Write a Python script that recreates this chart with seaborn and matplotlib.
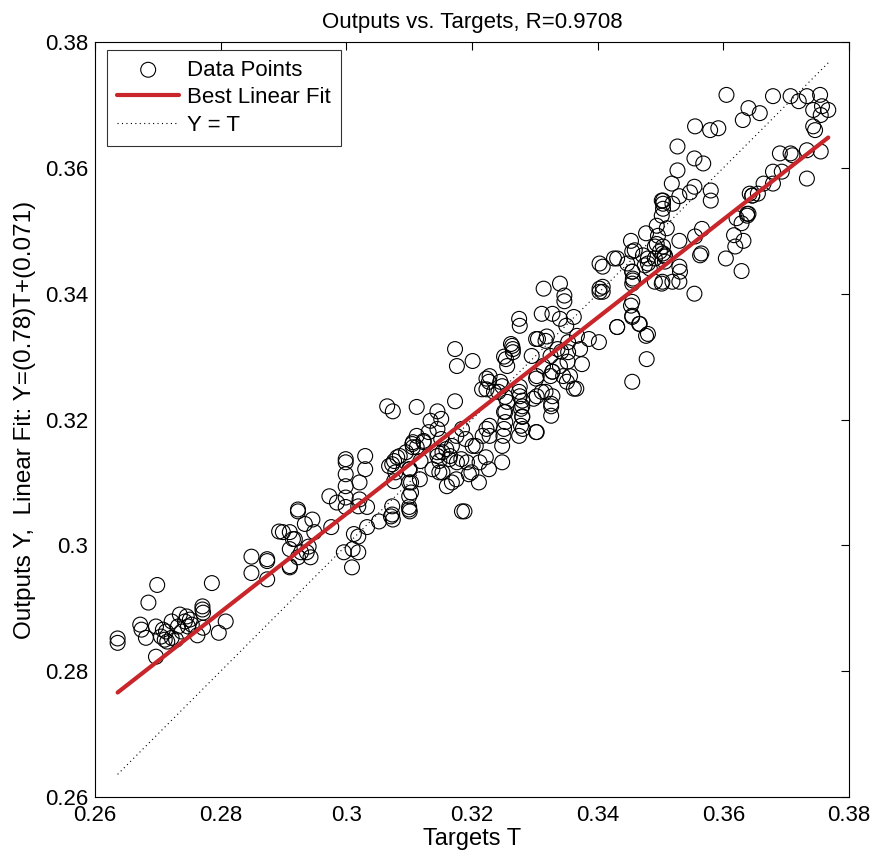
import numpy as np
import pandas as pd
import seaborn as sns
import matplotlib
matplotlib.use("Agg")
import matplotlib.pyplot as plt

# targets T and outputs Y
targets = [
    0.2636, 0.2636, 0.2699, 0.2685, 0.2786, 0.2672, 0.2674, 0.2681, 0.2697, 0.2697,
    0.2705, 0.2713, 0.2715, 0.2722, 0.2722, 0.2735, 0.2732, 0.2738, 0.2743, 0.2746,
    0.2748, 0.2751, 0.2754, 0.2763, 0.2771, 0.2772, 0.2771, 0.2772, 0.2797, 0.2808,
    0.2729, 0.2849, 0.2874, 0.2910, 0.2874, 0.2708, 0.2711,
    0.2849, 0.2874, 0.2899, 0.2910, 0.2915, 0.2910, 0.2910, 0.2923, 0.2923, 0.2934, 0.2937,
    0.2893, 0.2918, 0.2923, 0.2928, 0.2940, 0.2946, 0.2949, 0.2943, 0.2973, 0.2976,
    0.2985, 0.2999, 0.2999, 0.2999, 0.2999, 0.2999, 0.2999, 0.2996, 0.3009, 0.3012,
    0.3019, 0.3019, 0.3019, 0.3021, 0.3030, 0.3033, 0.3033, 0.3030, 0.3052, 0.3071,
    0.3073, 0.3081, 0.3100, 0.3100, 0.3100, 0.3100, 0.3112, 0.3117, 0.3123, 0.3137,
    0.3148, 0.3153, 0.3159, 0.3175, 0.3188, 0.3183, 0.3199, 0.3201, 0.3021, 0.3078,
    0.3101, 0.3106, 0.3145, 0.3165, 0.3010,
    0.3065, 0.3074, 0.3173, 0.3176, 0.3201, 0.3112, 0.3145, 0.3151, 0.3134, 0.3173,
    0.3112, 0.3105, 0.3095, 0.3076, 0.3068, 0.3076, 0.3103, 0.3103, 0.3100, 0.3073,
    0.3118, 0.3123, 0.3131, 0.3145, 0.3151, 0.3153, 0.3164, 0.3168, 0.3175, 0.3184,
    0.3190, 0.3176, 0.3148, 0.3168, 0.3195, 0.3211, 0.3184, 0.3206, 0.3222, 0.3227,
    0.3248, 0.3248, 0.3251, 0.3251, 0.3216, 0.3227, 0.3235, 0.3248, 0.3254, 0.3262,
    0.3275, 0.3278, 0.3278, 0.3275, 0.3302, 0.3298, 0.3302, 0.3317, 0.3326, 0.3326,
    0.3328, 0.3342, 0.3352, 0.3362, 0.3302, 0.3106, 0.3085, 0.3101, 0.3073, 0.3074,
    0.3145, 0.3160, 0.3192, 0.3217, 0.3212, 0.3256, 0.3223, 0.3228, 0.3223, 0.3242,
    0.3253, 0.3265, 0.3256, 0.3280, 0.3280, 0.3313, 0.3356, 0.3340, 0.3319,
    0.3340, 0.3314, 0.3347, 0.3347, 0.3403, 0.3403, 0.3431, 0.3447, 0.3455, 0.3456,
    0.3472, 0.3491, 0.3503, 0.3455, 0.3455, 0.3431, 0.3466, 0.3477, 0.3478, 0.3455,
    0.3275, 0.3311, 0.3350, 0.3362, 0.3367, 0.3317, 0.3295, 0.3264, 0.3251, 0.3386,
    0.3402, 0.3375, 0.3328, 0.3351, 0.3366, 0.3403, 0.3459, 0.3480, 0.3499, 0.3507,
    0.3519, 0.3276, 0.3328, 0.3340, 0.3353, 0.3305, 0.3265, 0.3325, 0.3336, 0.3353,
    0.3372, 0.3325, 0.3345, 0.3303, 0.3276, 0.3276, 0.3280, 0.3280, 0.3281, 0.3253,
    0.3253, 0.3228, 0.3223, 0.3245, 0.3303, 0.3311, 0.3328, 0.3326, 0.3303, 0.3250, 0.3228,
    0.3527, 0.3554, 0.3568, 0.3527, 0.3518, 0.3554, 0.3580, 0.3580, 0.3530, 0.3502,
    0.3502, 0.3510, 0.3477, 0.3453, 0.3426, 0.3530, 0.3530, 0.3530, 0.3554, 0.3565,
    0.3566, 0.3604, 0.3617, 0.3621, 0.3629, 0.3632, 0.3629, 0.3642, 0.3664, 0.3679,
    0.3690, 0.3453, 0.3547, 0.3504, 0.3504, 0.3504, 0.3519, 0.3494, 0.3496, 0.3494,
    0.3491, 0.3504, 0.3504, 0.3507, 0.3507, 0.3455, 0.3408, 0.3408, 0.3408, 0.3455,
    0.3456, 0.3455, 0.3480, 0.3475, 0.3483, 0.3491, 0.3502, 0.3531, 0.3563, 0.3555,
    0.3619, 0.3638, 0.3640, 0.3646, 0.3455, 0.3467, 0.3431, 0.3480,
    0.3679, 0.3707, 0.3720, 0.3733, 0.3754, 0.3743, 0.3767, 0.3755, 0.3640, 0.3658,
    0.3631, 0.3743, 0.3746, 0.3707, 0.3733, 0.3755, 0.3733, 0.3757, 0.3710, 0.3693,
    0.3679, 0.3655, 0.3646, 0.3638, 0.3555, 0.3579, 0.3592, 0.3605,
]
outputs = [
    0.2852, 0.2845, 0.2937, 0.2909, 0.2940, 0.2874, 0.2866, 0.2853, 0.2823, 0.2871,
    0.2855, 0.2863, 0.2847, 0.2879, 0.2853, 0.2890, 0.2871, 0.2863, 0.2879, 0.2887,
    0.2871, 0.2882, 0.2874, 0.2857, 0.2898, 0.2893, 0.2903, 0.2869, 0.2861, 0.2879,
    0.2850, 0.2956, 0.2946, 0.2965, 0.2975, 0.2866, 0.2850,
    0.2982, 0.2978, 0.3021, 0.3021, 0.3010, 0.2994, 0.2967, 0.2981, 0.3054, 0.3034, 0.2989,
    0.3022, 0.3010, 0.3057, 0.2989, 0.2998, 0.3041, 0.3021, 0.2981, 0.3078, 0.3029,
    0.3068, 0.3137, 0.3132, 0.3113, 0.3094, 0.3076, 0.3061, 0.2989, 0.2965, 0.3018,
    0.3014, 0.2989, 0.3062, 0.3100, 0.3142, 0.3061, 0.3029, 0.3121, 0.3038, 0.3046,
    0.3129, 0.3140, 0.3121, 0.3100, 0.3078, 0.3061, 0.3156, 0.3105, 0.3166, 0.3121,
    0.3134, 0.3116, 0.3153, 0.3105, 0.3054, 0.3137, 0.3116, 0.3158, 0.3073, 0.3116,
    0.3054, 0.3164, 0.3148, 0.3142, 0.2994,
    0.3221, 0.3213, 0.3312, 0.3285, 0.3293, 0.3220, 0.3213, 0.3201, 0.3198, 0.3229,
    0.3174, 0.3161, 0.3148, 0.3134, 0.3126, 0.3102, 0.3100, 0.3084, 0.3057, 0.3062,
    0.3134, 0.3164, 0.3180, 0.3185, 0.3169, 0.3148, 0.3137, 0.3158, 0.3174, 0.3185,
    0.3169, 0.3132, 0.3116, 0.3100, 0.3113, 0.3100, 0.3054, 0.3158, 0.3140, 0.3121,
    0.3132, 0.3158, 0.3185, 0.3212, 0.3248, 0.3260, 0.3244, 0.3253, 0.3296, 0.3320,
    0.3244, 0.3217, 0.3190, 0.3174, 0.3265, 0.3233, 0.3180, 0.3244, 0.3225, 0.3206,
    0.3276, 0.3308, 0.3292, 0.3249, 0.3328, 0.3156, 0.3142, 0.3121, 0.3049, 0.3041,
    0.3142, 0.3094, 0.3132, 0.3174, 0.3132, 0.3228, 0.3185, 0.3190, 0.3265, 0.3244,
    0.3236, 0.3312, 0.3285, 0.3230, 0.3204, 0.3285, 0.3269, 0.3285, 0.3332,
    0.3416, 0.3408, 0.3397, 0.3388, 0.3448, 0.3408, 0.3456, 0.3448, 0.3435, 0.3421,
    0.3461, 0.3456, 0.3419, 0.3387, 0.3365, 0.3347, 0.3352, 0.3333, 0.3296, 0.3260,
    0.3360, 0.3368, 0.3349, 0.3363, 0.3333, 0.3325, 0.3301, 0.3317, 0.3300, 0.3328,
    0.3323, 0.3288, 0.3276, 0.3260, 0.3249, 0.3403, 0.3469, 0.3448, 0.3467, 0.3461,
    0.3419, 0.3349, 0.3368, 0.3360, 0.3323, 0.3328, 0.3307, 0.3301, 0.3312, 0.3307,
    0.3312, 0.3269, 0.3269, 0.3269, 0.3252, 0.3237, 0.3221, 0.3205, 0.3185, 0.3212,
    0.3196, 0.3269, 0.3248, 0.3260, 0.3237, 0.3244, 0.3237, 0.3221, 0.3180, 0.3174, 0.3174,
    0.3634, 0.3615, 0.3607, 0.3596, 0.3575, 0.3570, 0.3564, 0.3548, 0.3555, 0.3548,
    0.3524, 0.3504, 0.3496, 0.3484, 0.3456, 0.3484, 0.3443, 0.3419, 0.3400, 0.3464,
    0.3503, 0.3456, 0.3493, 0.3520, 0.3512, 0.3484, 0.3436, 0.3559, 0.3575, 0.3594,
    0.3623, 0.3381, 0.3561, 0.3548, 0.3543, 0.3535, 0.3543, 0.3508, 0.3492, 0.3479,
    0.3475, 0.3475, 0.3464, 0.3459, 0.3451, 0.3467, 0.3443, 0.3411, 0.3403, 0.3435,
    0.3424, 0.3416, 0.3456, 0.3445, 0.3440, 0.3419, 0.3416, 0.3435, 0.3461, 0.3491,
    0.3475, 0.3524, 0.3527, 0.3556, 0.3363, 0.3352, 0.3347, 0.3336,
    0.3714, 0.3714, 0.3706, 0.3714, 0.3716, 0.3692, 0.3692, 0.3684, 0.3695, 0.3687,
    0.3676, 0.3666, 0.3660, 0.3623, 0.3628, 0.3626, 0.3583, 0.3698, 0.3620, 0.3594,
    0.3575, 0.3559, 0.3556, 0.3527, 0.3666, 0.3660, 0.3663, 0.3716,
]

slope = 0.78
intercept = 0.071
r_value = 0.9708

df = pd.DataFrame({"T": targets, "Y": outputs})

sns.set_style("white")
plt.rcParams["font.family"] = ["Liberation Sans", "DejaVu Sans"]
plt.rcParams["text.color"] = "black"
plt.rcParams["axes.labelcolor"] = "black"

fig = plt.figure(figsize=(8.74, 8.58), dpi=100)
ax = fig.add_axes([0.1087, 0.0711, 0.8627, 0.8799])

sns.scatterplot(data=df, x="T", y="Y", ax=ax, marker="o", s=115,
                facecolor="none", edgecolor="black", linewidth=0.8,
                label="Data Points", zorder=2)

t_line = np.array([df["T"].min(), df["T"].max()])
fit = pd.DataFrame({"T": t_line, "Y": slope * t_line + intercept})
sns.lineplot(data=fit, x="T", y="Y", ax=ax, color="#c8262a", linewidth=3,
             label="Best Linear Fit", zorder=3)
ident = pd.DataFrame({"T": t_line, "Y": t_line})
sns.lineplot(data=ident, x="T", y="Y", ax=ax, color="black", linewidth=0.8,
             linestyle=(0, (1, 3)), label="Y = T", zorder=1)

ax.set_xlim(0.26, 0.38)
ax.set_ylim(0.26, 0.38)
ticks = [0.26, 0.28, 0.3, 0.32, 0.34, 0.36, 0.38]
tick_labels = ["0.26", "0.28", "0.3", "0.32", "0.34", "0.36", "0.38"]
ax.set_xticks(ticks)
ax.set_xticklabels(tick_labels)
ax.set_yticks(ticks)
ax.set_yticklabels(tick_labels)
ax.tick_params(direction="in", top=True, right=True, length=6, width=0.8,
               labelsize=16, colors="black")
ax.tick_params(axis="x", pad=6)
ax.tick_params(axis="y", pad=5)
for sp in ax.spines.values():
    sp.set_color("black")
    sp.set_linewidth(0.8)

ax.set_xlabel("Targets T", fontsize=17, labelpad=1, color="black")
ax.set_ylabel("Outputs Y,  Linear Fit: Y=(%.2g)T+(%.2g)" % (slope, intercept),
              fontsize=17.5, labelpad=6, color="black")
ax.set_title("Outputs vs. Targets, R=%.4f" % r_value, fontsize=16, pad=10,
             color="black")

leg = ax.legend(loc="upper left", bbox_to_anchor=(0.016, 0.99), borderaxespad=0,
                fontsize=16, frameon=True, fancybox=False, edgecolor="black",
                handlelength=2.8, handletextpad=0.35, labelspacing=0.3,
                borderpad=0.45)
leg.get_frame().set_linewidth(0.8)
for txt in leg.get_texts():
    txt.set_color("black")

fig.savefig("out.png", dpi=100)
